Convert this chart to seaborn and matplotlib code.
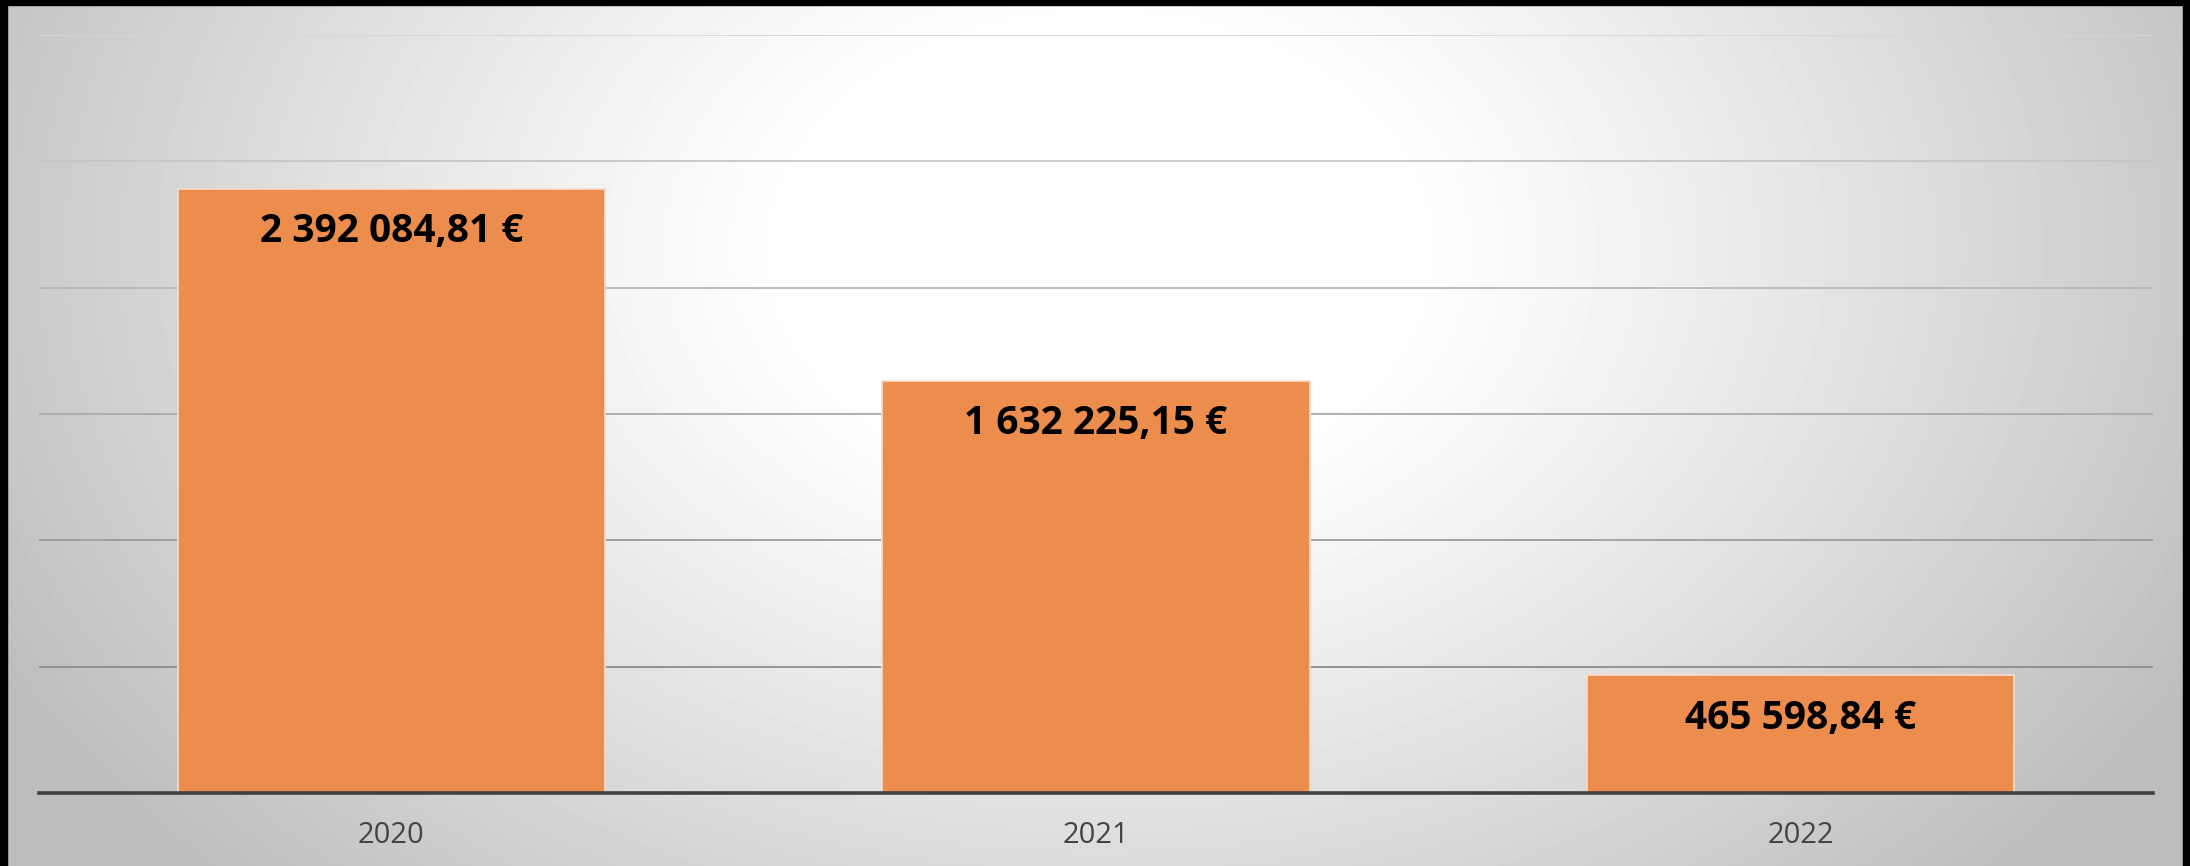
import numpy as np
import pandas as pd
import seaborn as sns
import matplotlib.pyplot as plt
from matplotlib.patches import Rectangle


# chart data
years = ['2020', '2021', '2022']
amounts = [2392084.81, 1632225.15, 465598.84]
y_ticks = [0, 500000, 1000000, 1500000, 2000000, 2500000, 3000000]


# french style amount: 2 392 084,81 €
def fmt_eur(v):
    s = '{:,.2f}'.format(v)
    s = s.replace(',', 'X').replace('.', ',').replace('X', ' ')
    return s + ' €'


sns.set_theme(style='white')
plt.rcParams['font.family'] = ['Open Sans', 'DejaVu Sans']

W, H = 2190, 866
fig = plt.figure(figsize=(W / 100, H / 100), dpi=100)

# radial gradient background
bg = fig.add_axes([0, 0, 1, 1], zorder=0)
xx, yy = np.meshgrid(np.arange(W), np.arange(H))
r = np.sqrt(((xx - 1100) / 1250.0) ** 2 + ((yy - 250) / 900.0) ** 2)
shade = 1.0 - 0.26 * np.clip(r - 0.25, 0, 1) ** 1.1 / 0.75 ** 1.1
shade = np.clip(shade, 0.74, 1.0)
bg.imshow(shade, cmap='gray', vmin=0, vmax=1, aspect='auto', extent=[0, W, H, 0])
bg.set_xlim(0, W)
bg.set_ylim(H, 0)
bg.axis('off')

# black frame bits on top / left / right
bg.add_patch(Rectangle((0, 0), W, 5, color='black', zorder=5))
bg.add_patch(Rectangle((0, 0), 7, H, color='black', zorder=5))
bg.add_patch(Rectangle((2183, 0), 7, H, color='black', zorder=5))

left, right, top, bottom = 39, 2153, 35, 793
ax = fig.add_axes([left / W, (H - bottom) / H, (right - left) / W, (bottom - top) / H], zorder=1)
ax.patch.set_alpha(0)

df = pd.DataFrame({'year': years, 'amount': amounts})
sns.barplot(data=df, x='year', y='amount', color='#EC8D4E', saturation=1, width=0.606,
            edgecolor='#f6dccb', linewidth=1.2, ax=ax, zorder=3)

ax.set_xlim(-0.5, len(years) - 0.5)
ax.set_ylim(0, y_ticks[-1])
ax.set_yticks(y_ticks)
ax.set_yticklabels([])
ax.tick_params(axis='y', length=0)
ax.tick_params(axis='x', length=0, labelsize=21, labelcolor='#444444', pad=20)
ax.set_xlabel('')
ax.set_ylabel('')

# gridlines get darker towards the bottom
ax.yaxis.grid(True, linewidth=1.3)
grid_cols = ['#404040', '#8c8c8c', '#9c9c9c', '#aaaaaa', '#b8b8b8', '#c6c6c6', '#d6d6d6']
for gl, c in zip(ax.get_ygridlines(), grid_cols):
    gl.set_color(c)
ax.set_axisbelow(True)

for s in ['top', 'right', 'left']:
    ax.spines[s].set_visible(False)
ax.spines['bottom'].set_color('#404040')
ax.spines['bottom'].set_linewidth(2.6)
ax.spines['bottom'].set_zorder(4)

for i, v in enumerate(amounts):
    ax.annotate(fmt_eur(v), xy=(i, v), xytext=(0, -31), textcoords='offset points',
                ha='center', va='center', fontsize=28, fontweight='bold', color='black', zorder=5)

fig.savefig('out.png', dpi=100)
